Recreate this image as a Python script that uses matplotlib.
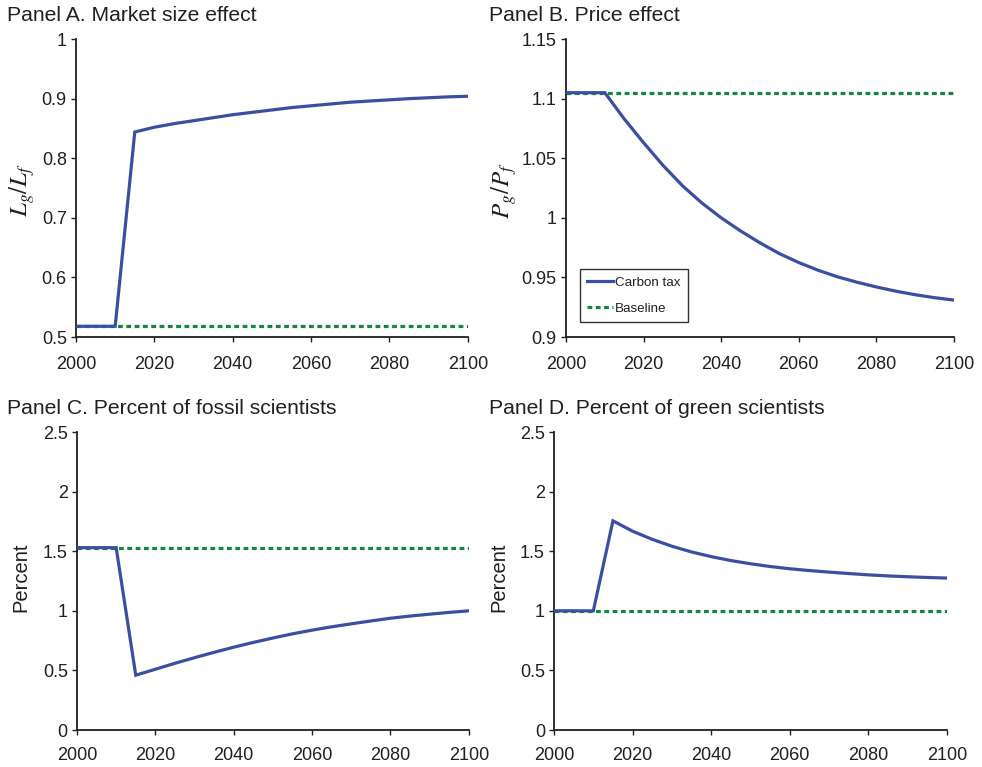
import matplotlib
matplotlib.use("Agg")
import matplotlib.pyplot as plt
from matplotlib.ticker import FormatStrFormatter

plt.rcParams['font.family'] = ['Liberation Sans', 'DejaVu Sans']
plt.rcParams['mathtext.fontset'] = 'stix'

# Years on the simulation grid (5-year steps)
years = [2000, 2005, 2010, 2015, 2020, 2025, 2030, 2035, 2040, 2045, 2050,
         2055, 2060, 2065, 2070, 2075, 2080, 2085, 2090, 2095, 2100]

# Panel A: L_g / L_f
market_tax = [0.518, 0.518, 0.518, 0.844, 0.852, 0.858, 0.863, 0.868, 0.873, 0.877, 0.881,
              0.885, 0.888, 0.891, 0.894, 0.896, 0.898, 0.900, 0.9015, 0.903, 0.904]
market_base = 0.518

# Panel B: P_g / P_f
price_tax = [1.105, 1.105, 1.105, 1.083, 1.063, 1.044, 1.027, 1.0125, 1.000, 0.989, 0.979,
             0.970, 0.9625, 0.956, 0.9505, 0.946, 0.942, 0.9385, 0.9355, 0.933, 0.931]
price_base = 1.105

# Panel C: percent of fossil scientists
fossil_tax = [1.53, 1.53, 1.53, 0.46, 0.51, 0.56, 0.607, 0.652, 0.695, 0.735, 0.772,
              0.807, 0.838, 0.866, 0.891, 0.915, 0.938, 0.956, 0.972, 0.987, 1.00]
fossil_base = 1.53

# Panel D: percent of green scientists
green_tax = [1.0, 1.0, 1.0, 1.755, 1.668, 1.600, 1.542, 1.494, 1.455, 1.422, 1.395,
             1.372, 1.353, 1.338, 1.325, 1.313, 1.302, 1.293, 1.286, 1.280, 1.275]
green_base = 1.0

blue = '#3a4fa2'
green = '#13873b'
txt = '#231f20'

fig = plt.figure(figsize=(9.82, 7.67), dpi=100)

panels = [
    # rect, title, title pos, ylabel, ylabel pos, tax, base, ylim, yticks
    ([0.0774, 0.5606, 0.399, 0.3885], "Panel A. Market size effect", (0.007, 0.980),
     r'$L_g/L_f$', (0.022, 0.752), market_tax, market_base, (0.5, 1.0),
     [0.5, 0.6, 0.7, 0.8, 0.9, 1.0]),
    ([0.5764, 0.5606, 0.395, 0.3885], "Panel B. Price effect", (0.498, 0.980),
     r'$P_g/P_f$', (0.513, 0.752), price_tax, price_base, (0.9, 1.15),
     [0.9, 0.95, 1.0, 1.05, 1.1, 1.15]),
    ([0.0784, 0.0482, 0.399, 0.3885], "Panel C. Percent of fossil scientists", (0.007, 0.467),
     'Percent', (0.021, 0.248), fossil_tax, fossil_base, (0, 2.5),
     [0, 0.5, 1, 1.5, 2, 2.5]),
    ([0.5642, 0.0482, 0.400, 0.3885], "Panel D. Percent of green scientists", (0.498, 0.467),
     'Percent', (0.508, 0.248), green_tax, green_base, (0, 2.5),
     [0, 0.5, 1, 1.5, 2, 2.5]),
]

for i, (rect, title, tpos, ylab, ypos, tax, base, ylim, yt) in enumerate(panels):
    ax = fig.add_axes(rect)
    ax.plot(years, tax, color=blue, lw=2.3, solid_joinstyle='miter', label='Carbon tax', zorder=3)
    ax.plot(years, [base] * len(years), color=green, lw=2.3,
            linestyle=(0, (1.5, 1.1)), dash_capstyle='butt', label='Baseline', zorder=2)
    ax.set_xlim(2000, 2100)
    ax.set_ylim(*ylim)
    ax.set_xticks([2000, 2020, 2040, 2060, 2080, 2100])
    ax.set_yticks(yt)
    ax.yaxis.set_major_formatter(FormatStrFormatter('%g'))
    for s in ['top', 'right']:
        ax.spines[s].set_visible(False)
    for s in ['left', 'bottom']:
        ax.spines[s].set_linewidth(1.3)
        ax.spines[s].set_color(txt)
    ax.tick_params(axis='both', direction='out', length=3.6, width=1.0, color=txt,
                   labelsize=13, labelcolor=txt)
    ax.tick_params(axis='x', pad=10 if i < 2 else 8.5)
    ax.tick_params(axis='y', pad=3)
    fig.text(tpos[0], tpos[1], title, fontsize=15.2, color=txt, ha='left', va='center')
    if ylab.startswith('$'):
        fig.text(ypos[0], ypos[1], ylab, fontsize=18, color=txt, rotation=90,
                 ha='center', va='center')
    else:
        fig.text(ypos[0], ypos[1], ylab, fontsize=14.5, color=txt, rotation=90,
                 ha='center', va='center')
    if i == 1:
        leg = ax.legend(loc='lower left', bbox_to_anchor=(0.036, 0.05), borderaxespad=0,
                        fontsize=9.6, frameon=True, fancybox=False, edgecolor='black',
                        handlelength=1.9, labelspacing=1.0, handletextpad=0.2,
                        borderpad=0.55)
        leg.get_frame().set_linewidth(1.0)
        for t in leg.get_texts():
            t.set_color(txt)

fig.savefig('out.png', dpi=100)
